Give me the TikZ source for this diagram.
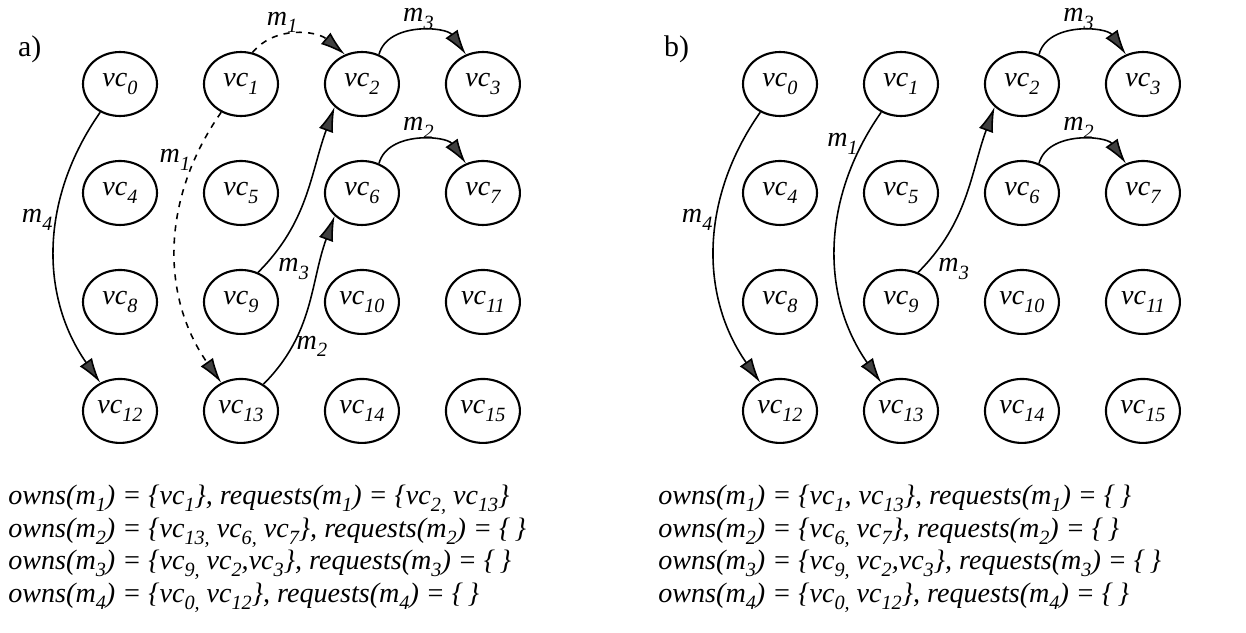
\documentclass[tikz,border=0pt]{standalone}
\usepackage{fontspec}
\setmainfont{Liberation Serif}
\usetikzlibrary{arrows.meta,shapes.geometric,positioning}

\newcommand{\subs}[1]{\raisebox{-0.26em}{\fontsize{11.5}{12}\selectfont #1}}
\newcommand{\vcs}[1]{vc\subs{#1}}
\newcommand{\ms}[1]{m\subs{#1}}

\begin{document}
\begin{tikzpicture}[x=0.02cm,
            y=-0.02cm,
            font=\fontsize{16}{19}\selectfont\itshape,
            vc/.style={draw, ellipse, minimum width=1.48cm,
                       minimum height=1.28cm, inner sep=0pt, line width=1.2pt},
            msg/.style={-{Latex[length=5mm,width=3mm,fill=black!75]},
                        line width=0.9pt},
            wait/.style={msg, dash pattern=on 3.5pt off 3.5pt},
            lbl/.style={inner sep=2pt},
            tag/.style={anchor=base west, font=\fontsize{17}{20}\selectfont\upshape},
            line/.style={anchor=base west, inner sep=0pt},
            node distance=2.18cm and 2.42cm,
            on grid]

        \useasboundingbox (0,0) rectangle (1246,632);

        % a) waiting state
        \node[tag] (pa) at (12,56) {a)};

        \node[vc] (a0)                 at (120,84) {\vcs{0}};
        \node[vc] (a1)  [right=of a0]  {\vcs{1}};
        \node[vc] (a2)  [right=of a1]  {\vcs{2}};
        \node[vc] (a3)  [right=of a2]  {\vcs{3}};
        \node[vc] (a4)  [below=of a0]  {\vcs{4}};
        \node[vc] (a5)  [right=of a4]  {\vcs{5}};
        \node[vc] (a6)  [right=of a5]  {\vcs{6}};
        \node[vc] (a7)  [right=of a6]  {\vcs{7}};
        \node[vc] (a8)  [below=of a4]  {\vcs{8}};
        \node[vc] (a9)  [right=of a8]  {\vcs{9}};
        \node[vc] (a10) [right=of a9]  {\vcs{10}};
        \node[vc] (a11) [right=of a10] {\vcs{11}};
        \node[vc] (a12) [below=of a8]  {\vcs{12}};
        \node[vc] (a13) [right=of a12] {\vcs{13}};
        \node[vc] (a14) [right=of a13] {\vcs{14}};
        \node[vc] (a15) [right=of a14] {\vcs{15}};

        \draw[msg]  (a0)    to[out=235,in=125] node[lbl,pos=0.4,left]   {\ms{4}} (a12);
        \draw[wait] (a1)    to[out=235,in=125] node[lbl,pos=0.18,left]  {\ms{1}} (a13);
        \draw[wait] (a1.70) to[out=50,in=140]  node[lbl,pos=0.35,above,inner sep=1pt] {\ms{1}} (a2.120);
        \draw[msg]  (a9.60) to[out=45,in=250]  node[lbl,pos=0.12,below right] {\ms{3}} (a2.220);
        \draw[msg]  (a13.50) to[out=45,in=250] node[lbl,pos=0.25,right]  {\ms{2}} (a6.220);
        \draw[msg]  (a2.60) to[out=75,in=125]  node[lbl,above,inner sep=1pt] {\ms{3}} (a3.120);
        \draw[msg]  (a6.60) to[out=75,in=125]  node[lbl,above,inner sep=1pt] {\ms{2}} (a7.120);

        \node[line] (la1) at (8,504) {owns(\ms{1}) = \{\vcs{1}\}, requests(\ms{1}) = \{\vcs{2,} \vcs{13}\}};
        \node[line] (la2) at (8,537) {owns(\ms{2}) = \{\vcs{13,} \vcs{6,} \vcs{7}\}, requests(\ms{2}) = \{\,\}};
        \node[line] (la3) at (8,569) {owns(\ms{3}) = \{\vcs{9,} \vcs{2},\vcs{3}\}, requests(\ms{3}) = \{\,\}};
        \node[line] (la4) at (8,602) {owns(\ms{4}) = \{\vcs{0,} \vcs{12}\}, requests(\ms{4}) = \{\,\}};

        % b) after m2 has released vc13
        \node[tag] (pb) at (658,56) {b)};

        \node[vc] (b0)                 at (780,84) {\vcs{0}};
        \node[vc] (b1)  [right=of b0]  {\vcs{1}};
        \node[vc] (b2)  [right=of b1]  {\vcs{2}};
        \node[vc] (b3)  [right=of b2]  {\vcs{3}};
        \node[vc] (b4)  [below=of b0]  {\vcs{4}};
        \node[vc] (b5)  [right=of b4]  {\vcs{5}};
        \node[vc] (b6)  [right=of b5]  {\vcs{6}};
        \node[vc] (b7)  [right=of b6]  {\vcs{7}};
        \node[vc] (b8)  [below=of b4]  {\vcs{8}};
        \node[vc] (b9)  [right=of b8]  {\vcs{9}};
        \node[vc] (b10) [right=of b9]  {\vcs{10}};
        \node[vc] (b11) [right=of b10] {\vcs{11}};
        \node[vc] (b12) [below=of b8]  {\vcs{12}};
        \node[vc] (b13) [right=of b12] {\vcs{13}};
        \node[vc] (b14) [right=of b13] {\vcs{14}};
        \node[vc] (b15) [right=of b14] {\vcs{15}};

        \draw[msg] (b0)    to[out=235,in=125] node[lbl,pos=0.4,left]   {\ms{4}} (b12);
        \draw[msg] (b1)    to[out=235,in=125] node[lbl,pos=0.12,left]  {\ms{1}} (b13);
        \draw[msg] (b9.60) to[out=45,in=250]  node[lbl,pos=0.12,below right] {\ms{3}} (b2.220);
        \draw[msg] (b2.60) to[out=75,in=125]  node[lbl,above,inner sep=1pt] {\ms{3}} (b3.120);
        \draw[msg] (b6.60) to[out=75,in=125]  node[lbl,above,inner sep=1pt] {\ms{2}} (b7.120);

        \node[line] (lb1) at (658,504) {owns(\ms{1}) = \{\vcs{1}, \vcs{13}\}, requests(\ms{1}) = \{\,\}};
        \node[line] (lb2) at (658,537) {owns(\ms{2}) = \{\vcs{6,} \vcs{7}\}, requests(\ms{2}) = \{\,\}};
        \node[line] (lb3) at (658,569) {owns(\ms{3}) = \{\vcs{9,} \vcs{2},\vcs{3}\}, requests(\ms{3}) = \{\,\}};
        \node[line] (lb4) at (658,602) {owns(\ms{4}) = \{\vcs{0,} \vcs{12}\}, requests(\ms{4}) = \{\,\}};

\end{tikzpicture}
\end{document}
